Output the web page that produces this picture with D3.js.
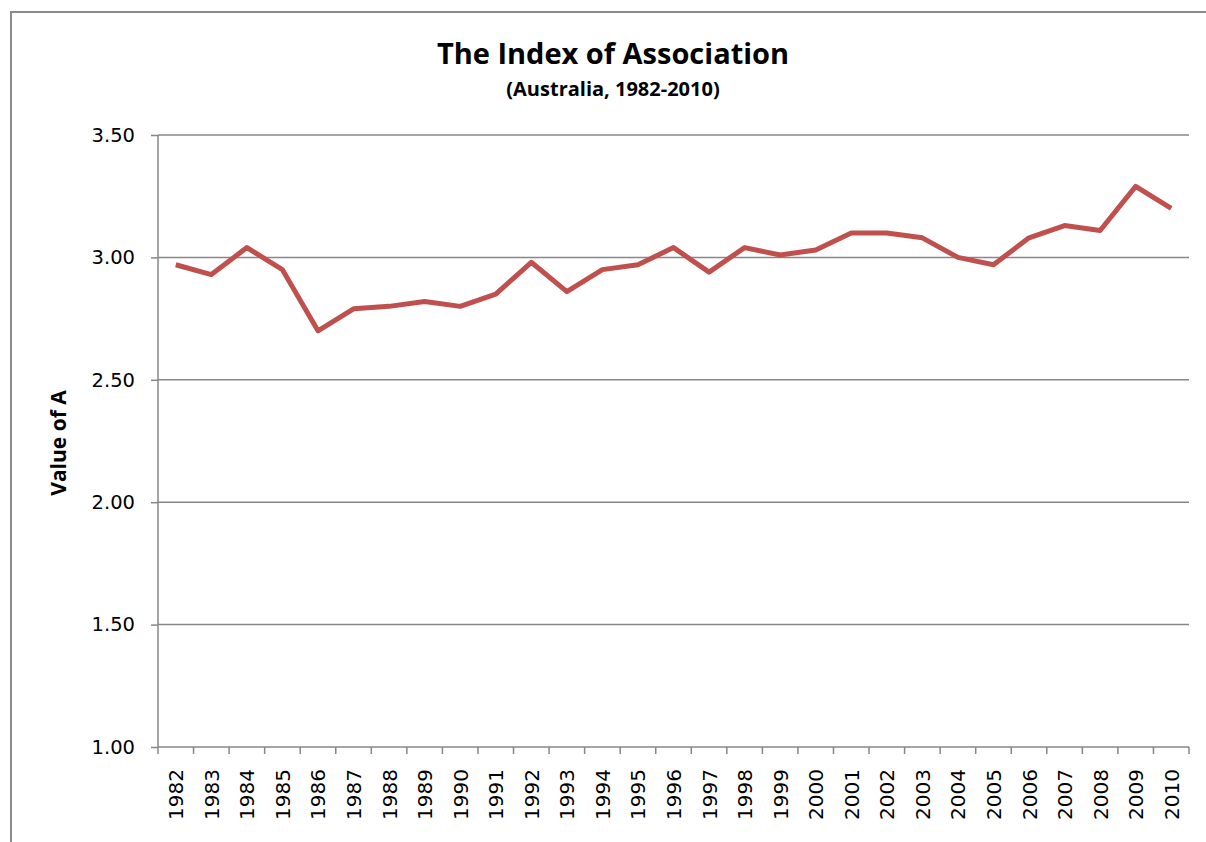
<!DOCTYPE html>
<html lang="en">

<head>
  <meta charset="utf-8">
  <title>The Index of Association</title>
  <script src="https://d3js.org/d3.v7.min.js"></script>
  <style>
    body { margin: 0; background: #fff; }
  </style>
</head>

<body>
  <svg width="1206" height="842"></svg>
  <script>
    const years = ["1982", "1983", "1984", "1985", "1986", "1987", "1988", "1989", "1990", "1991",
      "1992", "1993", "1994", "1995", "1996", "1997", "1998", "1999", "2000", "2001",
      "2002", "2003", "2004", "2005", "2006", "2007", "2008", "2009", "2010"];
    const valuesA = [2.97, 2.93, 3.04, 2.95, 2.70, 2.79, 2.80, 2.82, 2.80, 2.85,
      2.98, 2.86, 2.95, 2.97, 3.04, 2.94, 3.04, 3.01, 3.03, 3.10,
      3.10, 3.08, 3.00, 2.97, 3.08, 3.13, 3.11, 3.29, 3.20];
    const yTicks = [1.00, 1.50, 2.00, 2.50, 3.00, 3.50];

    const svg = d3.select("svg");
    const margin = { left: 158, right: 1189, top: 135, bottom: 747 };
    const gridColor = "#878787";

    // outer chart frame (clipped by the page edges)
    svg.append("rect")
      .attr("x", 11).attr("y", 12)
      .attr("width", 1206).attr("height", 900)
      .attr("fill", "none")
      .attr("stroke", "#8c8c8c")
      .attr("stroke-width", 2);

    const x = d3.scaleBand()
      .domain(years)
      .range([margin.left, margin.right]);

    const y = d3.scaleLinear()
      .domain([1, 3.5])
      .range([margin.bottom, margin.top]);

    // horizontal gridlines
    svg.append("g")
      .selectAll("line")
      .data(yTicks.slice(1))
      .enter()
      .append("line")
      .attr("x1", margin.left)
      .attr("x2", margin.right)
      .attr("y1", d => y(d))
      .attr("y2", d => y(d))
      .attr("stroke", gridColor)
      .attr("stroke-width", 1.5);

    // y axis
    const yAxis = svg.append("g")
      .attr("transform", `translate(${margin.left},0)`)
      .call(d3.axisLeft(y).tickValues(yTicks).tickFormat(d3.format(".2f")).tickSize(7).tickPadding(16));
    yAxis.select(".domain").attr("stroke", gridColor).attr("stroke-width", 1.5).attr("d", `M0,${margin.top}V${margin.bottom}`);
    yAxis.selectAll(".tick line").attr("stroke", gridColor).attr("stroke-width", 1.5);
    yAxis.selectAll(".tick text")
      .attr("font-family", "DejaVu Sans")
      .attr("font-size", "19.5px")
      .attr("fill", "#000");

    // x axis with ticks at category boundaries
    const xAxis = svg.append("g")
      .attr("transform", `translate(0,${margin.bottom})`);
    xAxis.append("line")
      .attr("x1", margin.left).attr("x2", margin.right)
      .attr("stroke", gridColor).attr("stroke-width", 1.5);
    xAxis.selectAll("line.tk")
      .data(years.concat(["end"]))
      .enter()
      .append("line")
      .attr("class", "tk")
      .attr("x1", (d, i) => i < years.length ? x(d) : margin.right)
      .attr("x2", (d, i) => i < years.length ? x(d) : margin.right)
      .attr("y1", 0).attr("y2", 7)
      .attr("stroke", gridColor).attr("stroke-width", 1.5);
    xAxis.selectAll("text")
      .data(years)
      .enter()
      .append("text")
      .attr("transform", d => `translate(${x(d) + x.bandwidth() / 2 + 7.5},22) rotate(-90)`)
      .attr("text-anchor", "end")
      .attr("font-family", "DejaVu Sans")
      .attr("font-size", "20px")
      .attr("fill", "#000")
      .text(d => d);

    // data line
    const line = d3.line()
      .x((d, i) => x(years[i]) + x.bandwidth() / 2)
      .y(d => y(d));

    svg.append("path")
      .datum(valuesA)
      .attr("d", line)
      .attr("fill", "none")
      .attr("stroke", "#C0504D")
      .attr("stroke-width", 5)
      .attr("stroke-linejoin", "round");

    // titles
    svg.append("text")
      .attr("x", 613).attr("y", 64)
      .attr("text-anchor", "middle")
      .attr("font-family", "Open Sans")
      .attr("font-weight", "bold")
      .attr("font-size", "29px")
      .text("The Index of Association");

    svg.append("text")
      .attr("x", 613).attr("y", 96)
      .attr("text-anchor", "middle")
      .attr("font-family", "Open Sans")
      .attr("font-weight", "bold")
      .attr("font-size", "20px")
      .text("(Australia, 1982-2010)");

    svg.append("text")
      .attr("transform", "translate(66,443) rotate(-90)")
      .attr("text-anchor", "middle")
      .attr("font-family", "Open Sans")
      .attr("font-weight", "bold")
      .attr("font-size", "21px")
      .text("Value of A");
  </script>
</body>

</html>
